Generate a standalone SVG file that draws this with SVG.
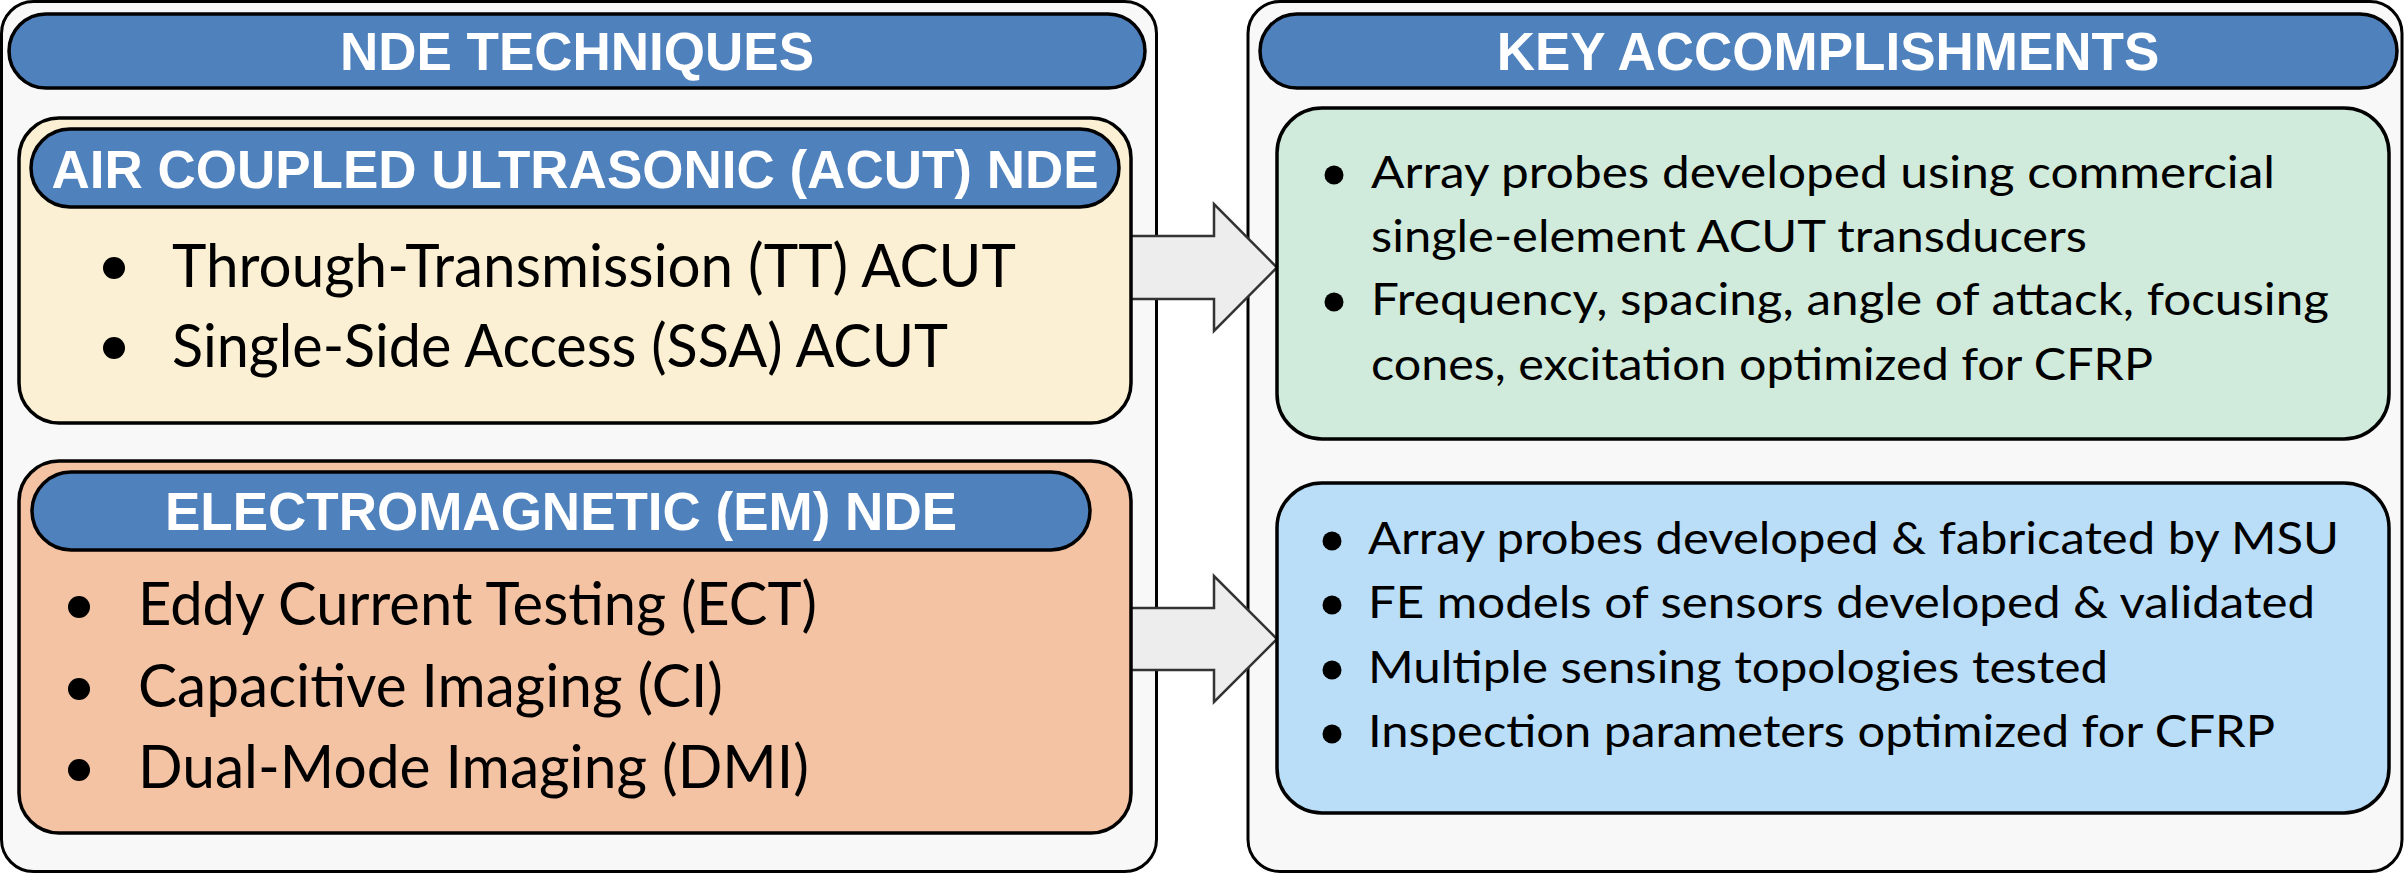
<svg xmlns="http://www.w3.org/2000/svg" width="2407" height="873" viewBox="0 0 2407 873">
<style>
.panel{fill:#F8F8F8;stroke:#000;stroke-width:3}
.bar{fill:#4F81BD;stroke:#000;stroke-width:3.5}
.box{stroke:#000;stroke-width:3.5}
.hdr{font-family:"Liberation Sans",Arial,sans-serif;font-weight:bold;font-size:53px;fill:#fff;text-anchor:middle}
.big{font-family:Lato,"Open Sans",sans-serif;font-size:60px;fill:#000}
.sm{font-family:Lato,"Open Sans",sans-serif;font-size:45px;fill:#000}
.arrow{fill:#EDEDED;stroke:#333;stroke-width:2.5;stroke-linejoin:miter}
</style>
<rect width="2407" height="873" fill="#fff"/>
<g id="panel-left"><rect class="panel" x="1.5" y="1.5" width="1155" height="870" rx="32"/></g>
<g id="panel-right"><rect class="panel" x="1248" y="1.5" width="1154" height="870" rx="32"/></g>
<g id="connectors">
<polygon class="arrow" points="1120,236 1214,236 1214,204 1277,267.5 1214,331 1214,299 1120,299"/>
<polygon class="arrow" points="1120,608 1214,608 1214,576 1277,639 1214,702 1214,670 1120,670"/>
</g>
<g id="title-nde">
<rect class="bar" x="9" y="14" width="1136" height="74" rx="37"/>
<text class="hdr" x="577" y="70">NDE TECHNIQUES</text>
</g>
<g id="title-key">
<rect class="bar" x="1260" y="14" width="1137" height="74" rx="37"/>
<text class="hdr" x="1828" y="70">KEY ACCOMPLISHMENTS</text>
</g>
<g id="acut">
<rect class="box" fill="#FBF0D3" x="19" y="118" width="1112" height="305" rx="40"/>
<rect class="bar" x="31" y="129" width="1088" height="78" rx="39"/>
<text class="hdr" x="575" y="188">AIR COUPLED ULTRASONIC (ACUT) NDE</text>
<circle cx="114" cy="268" r="11"/>
<text class="big" x="172" y="287" textLength="844" lengthAdjust="spacingAndGlyphs">Through-Transmission (TT) ACUT</text>
<circle cx="114" cy="348" r="11"/>
<text class="big" x="172" y="367" textLength="776" lengthAdjust="spacingAndGlyphs">Single-Side Access (SSA) ACUT</text>
</g>
<g id="em">
<rect class="box" fill="#F4C3A3" x="19" y="461" width="1112" height="372" rx="40"/>
<rect class="bar" x="32" y="472" width="1058" height="78" rx="39"/>
<text class="hdr" x="561" y="530">ELECTROMAGNETIC (EM) NDE</text>
<circle cx="79" cy="607" r="11"/>
<text class="big" x="138" y="625" textLength="679" lengthAdjust="spacingAndGlyphs">Eddy Current Testing (ECT)</text>
<circle cx="79" cy="689" r="11"/>
<text class="big" x="138" y="707" textLength="585" lengthAdjust="spacingAndGlyphs">Capacitive Imaging (CI)</text>
<circle cx="79" cy="770" r="11"/>
<text class="big" x="138" y="788" textLength="671" lengthAdjust="spacingAndGlyphs">Dual-Mode Imaging (DMI)</text>
</g>
<g id="acut-results">
<rect class="box" fill="#D0EBDC" x="1277" y="108" width="1112" height="331" rx="45"/>
<circle cx="1334" cy="175" r="9.5"/>
<text class="sm" x="1371" y="188" textLength="904" lengthAdjust="spacingAndGlyphs">Array probes developed using commercial</text>
<text class="sm" x="1371" y="252" textLength="716" lengthAdjust="spacingAndGlyphs">single-element ACUT transducers</text>
<circle cx="1334" cy="302" r="9.5"/>
<text class="sm" x="1371" y="315" textLength="958" lengthAdjust="spacingAndGlyphs">Frequency, spacing, angle of attack, focusing</text>
<text class="sm" x="1371" y="380" textLength="782" lengthAdjust="spacingAndGlyphs">cones, excitation optimized for CFRP</text>
</g>
<g id="em-results">
<rect class="box" fill="#BADEF7" x="1277" y="483" width="1112" height="330" rx="45"/>
<circle cx="1332" cy="541" r="9.5"/>
<text class="sm" x="1368" y="554" textLength="971" lengthAdjust="spacingAndGlyphs">Array probes developed &amp; fabricated by MSU</text>
<circle cx="1332" cy="605" r="9.5"/>
<text class="sm" x="1368" y="618" textLength="947" lengthAdjust="spacingAndGlyphs">FE models of sensors developed &amp; validated</text>
<circle cx="1332" cy="670" r="9.5"/>
<text class="sm" x="1368" y="683" textLength="740" lengthAdjust="spacingAndGlyphs">Multiple sensing topologies tested</text>
<circle cx="1332" cy="734" r="9.5"/>
<text class="sm" x="1368" y="747" textLength="907" lengthAdjust="spacingAndGlyphs">Inspection parameters optimized for CFRP</text>
</g>
</svg>
